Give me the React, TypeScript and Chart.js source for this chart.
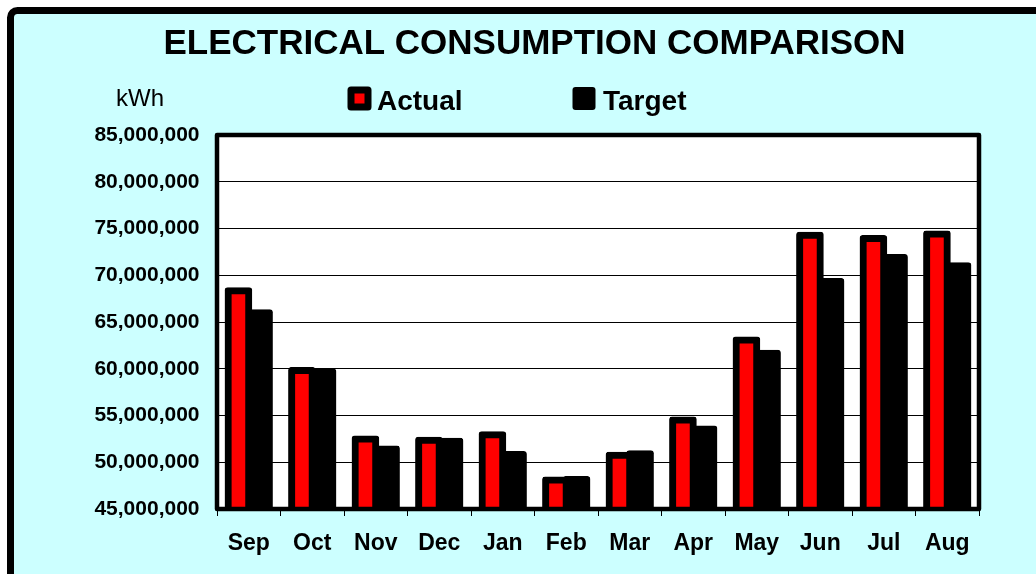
import React, { useEffect, useRef } from 'react';
import { Chart, registerables } from 'chart.js';

Chart.register(...registerables);

const months = ['Sep', 'Oct', 'Nov', 'Dec', 'Jan', 'Feb', 'Mar', 'Apr', 'May', 'Jun', 'Jul', 'Aug'];
const actualKWh = [68350000, 59820000, 52500000, 52360000, 52950000, 48100000, 50760000, 54520000, 63080000, 74270000, 73920000, 74420000];
const targetKWh = [66000000, 59640000, 51430000, 52250000, 50820000, 48160000, 50900000, 53560000, 61660000, 69340000, 71900000, 71010000];
const seriesNames = ['Actual', 'Target'];
const yMin = 45000000;
const yMax = 85000000;
const yStep = 5000000;
const titleText = 'ELECTRICAL CONSUMPTION COMPARISON';
const unitLabel = 'kWh';

const FONT = '"Liberation Sans", Arial, Helvetica, sans-serif';

const decor = {
  id: 'decor',
  beforeDraw(chart: any) {
    const { ctx, chartArea: a, width, height } = chart;
    ctx.save();
    ctx.fillStyle = '#ffffff';
    ctx.fillRect(0, 0, width, height);
    ctx.beginPath();
    ctx.roundRect(10.5, 10.5, 3000, 3000, 7);
    ctx.fillStyle = '#CCFFFF';
    ctx.fill();
    ctx.lineWidth = 7;
    ctx.strokeStyle = '#000';
    ctx.stroke();
    ctx.fillStyle = '#ffffff';
    ctx.fillRect(a.left, a.top, a.right - a.left, a.bottom - a.top);
    ctx.restore();
  },
  afterDatasetsDraw(chart: any) {
    const { ctx, chartArea: a } = chart;
    ctx.save();
    ctx.strokeStyle = '#000';
    ctx.lineWidth = 4.5;
    ctx.lineJoin = 'round';
    ctx.strokeRect(a.left, a.top, a.right - a.left, a.bottom - a.top);
    ctx.restore();
  },
  afterDraw(chart: any) {
    const { ctx } = chart;
    ctx.save();
    ctx.fillStyle = '#000';
    ctx.font = `24px ${FONT}`;
    ctx.textAlign = 'center';
    ctx.textBaseline = 'alphabetic';
    ctx.fillText(unitLabel, 140, 106);
    const ds = chart.data.datasets;
    const boxX = [347.5, 572.5];
    const textX = [377, 603];
    ctx.font = `bold 28px ${FONT}`;
    ctx.textAlign = 'left';
    ds.forEach((d: any, i: number) => {
      ctx.lineJoin = 'round';
      if (i === 0) {
        ctx.beginPath();
        ctx.rect(boxX[i] + 3.5, 90, 17, 17);
        ctx.fillStyle = d.backgroundColor;
        ctx.fill();
        ctx.lineWidth = 7;
        ctx.strokeStyle = d.borderColor;
        ctx.stroke();
      } else {
        ctx.beginPath();
        ctx.roundRect(boxX[i], 87, 23, 23, 3);
        ctx.fillStyle = d.backgroundColor;
        ctx.fill();
      }
      ctx.fillStyle = '#000';
      ctx.fillText(d.label, textX[i], 110);
    });
    ctx.restore();
  },
};

export default function App() {
  const ref = useRef<HTMLCanvasElement>(null);
  useEffect(() => {
    const barCommon = {
      borderColor: '#000000',
      borderWidth: 7,
      borderSkipped: false,
      inflateAmount: 3.5,
      borderRadius: 3,
      clip: 0,
      barPercentage: 1,
      categoryPercentage: 0.65,
    };
    const chart = new Chart(ref.current as HTMLCanvasElement, {
      type: 'bar',
      data: {
        labels: months,
        datasets: [
          { label: seriesNames[0], data: actualKWh, backgroundColor: '#FF0000', ...barCommon } as any,
          { label: seriesNames[1], data: targetKWh, backgroundColor: '#000000', ...barCommon } as any,
        ],
      },
      options: {
        responsive: false,
        devicePixelRatio: 1,
        animation: false,
        layout: { padding: { left: 90, right: 57, top: 0, bottom: 0 } },
        plugins: {
          legend: { display: false },
          tooltip: { enabled: false },
          title: {
            display: true,
            text: titleText,
            color: '#000',
            font: { family: FONT, size: 35, weight: 'bold', lineHeight: 1.2 },
            padding: { top: 23.5, bottom: 135 - 23.5 - 42 },
          },
        },
        scales: {
          x: {
            type: 'category',
            offset: true,
            grid: {
              display: true,
              drawOnChartArea: false,
              drawTicks: true,
              tickLength: 7,
              color: '#000',
              lineWidth: 1,
              offset: true,
            },
            border: { display: false },
            ticks: {
              color: '#000',
              font: { family: FONT, size: 23, weight: 'bold' },
              padding: 14,
              maxRotation: 0,
              autoSkip: false,
            },
            afterFit: (s: any) => {
              s.height = 65;
            },
          },
          y: {
            min: yMin,
            max: yMax,
            grid: { color: '#000', lineWidth: 1, drawTicks: false },
            border: { display: false },
            ticks: {
              stepSize: yStep,
              color: '#000',
              font: { family: FONT, size: 21, weight: 'bold' },
              padding: 17.5,
              callback: (v: any) => Number(v).toLocaleString('en-US'),
            },
            afterFit: (s: any) => {
              s.width = 127;
            },
          },
        },
      } as any,
      plugins: [decor],
    });
    return () => chart.destroy();
  }, []);

  return (
    <div
      style={{
        position: 'fixed',
        left: 0,
        top: 0,
        width: 1036,
        height: 574,
        overflow: 'hidden',
        background: '#ffffff',
      }}
    >
      <canvas
        ref={ref}
        width={1036}
        height={574}
        style={{ position: 'absolute', left: 0, top: 0, width: 1036, height: 574, display: 'block' }}
      />
    </div>
  );
}
